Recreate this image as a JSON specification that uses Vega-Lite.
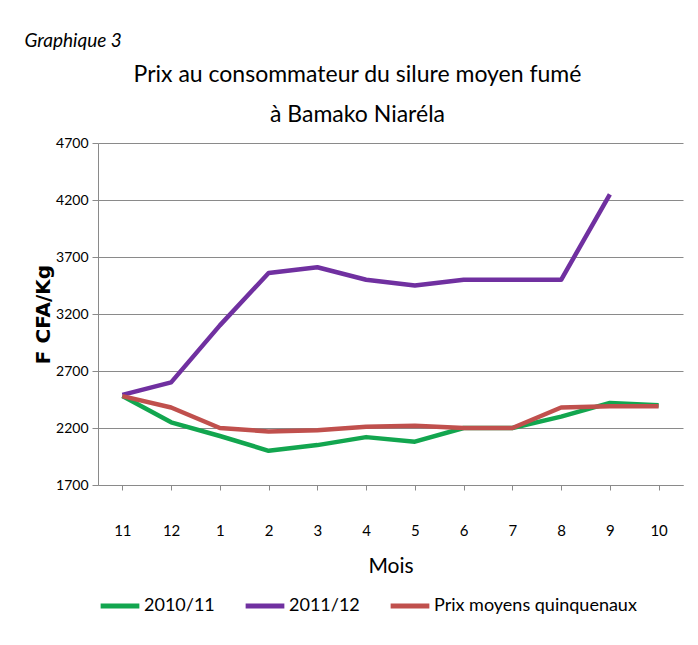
{
  "$schema": "https://vega.github.io/schema/vega-lite/v6.json",
  "background": "white",
  "padding": {"left": 24, "top": 32, "right": 10, "bottom": 10},
  "config": {
    "font": "Lato",
    "view": {"stroke": null},
    "axis": {"labelFont": "Lato", "titleFont": "Lato", "labelColor": "#000", "titleColor": "#000"},
    "legend": {"labelFont": "Lato"},
    "title": {"font": "Lato", "color": "#000"}
  },
  "title": {"text": "Graphique 3", "anchor": "start", "fontStyle": "italic", "fontWeight": "normal", "fontSize": 19, "frame": "bounds", "offset": 13, "dx": -9},
  "vconcat": [
    {
      "width": 585,
      "height": 342,
      "title": {"text": ["Prix au consommateur du silure  moyen fumé", "à Bamako Niaréla"], "fontSize": 23, "fontWeight": "normal", "lineHeight": 40, "anchor": "middle", "dx": -33, "offset": 9},
      "data": {"values": [
        {"mois": "11", "serie": "2010/11", "prix": 2480},
        {"mois": "12", "serie": "2010/11", "prix": 2250},
        {"mois": "1", "serie": "2010/11", "prix": 2130},
        {"mois": "2", "serie": "2010/11", "prix": 2000},
        {"mois": "3", "serie": "2010/11", "prix": 2050},
        {"mois": "4", "serie": "2010/11", "prix": 2120},
        {"mois": "5", "serie": "2010/11", "prix": 2080},
        {"mois": "6", "serie": "2010/11", "prix": 2200},
        {"mois": "7", "serie": "2010/11", "prix": 2200},
        {"mois": "8", "serie": "2010/11", "prix": 2300},
        {"mois": "9", "serie": "2010/11", "prix": 2420},
        {"mois": "10", "serie": "2010/11", "prix": 2400},
        {"mois": "11", "serie": "2011/12", "prix": 2490},
        {"mois": "12", "serie": "2011/12", "prix": 2600},
        {"mois": "1", "serie": "2011/12", "prix": 3100},
        {"mois": "2", "serie": "2011/12", "prix": 3560},
        {"mois": "3", "serie": "2011/12", "prix": 3610},
        {"mois": "4", "serie": "2011/12", "prix": 3500},
        {"mois": "5", "serie": "2011/12", "prix": 3450},
        {"mois": "6", "serie": "2011/12", "prix": 3500},
        {"mois": "7", "serie": "2011/12", "prix": 3500},
        {"mois": "8", "serie": "2011/12", "prix": 3500},
        {"mois": "9", "serie": "2011/12", "prix": 4250},
        {"mois": "11", "serie": "Prix moyens quinquenaux", "prix": 2480},
        {"mois": "12", "serie": "Prix moyens quinquenaux", "prix": 2380},
        {"mois": "1", "serie": "Prix moyens quinquenaux", "prix": 2200},
        {"mois": "2", "serie": "Prix moyens quinquenaux", "prix": 2170},
        {"mois": "3", "serie": "Prix moyens quinquenaux", "prix": 2180},
        {"mois": "4", "serie": "Prix moyens quinquenaux", "prix": 2210},
        {"mois": "5", "serie": "Prix moyens quinquenaux", "prix": 2220},
        {"mois": "6", "serie": "Prix moyens quinquenaux", "prix": 2200},
        {"mois": "7", "serie": "Prix moyens quinquenaux", "prix": 2200},
        {"mois": "8", "serie": "Prix moyens quinquenaux", "prix": 2380},
        {"mois": "9", "serie": "Prix moyens quinquenaux", "prix": 2390},
        {"mois": "10", "serie": "Prix moyens quinquenaux", "prix": 2390}
      ]},
      "mark": {"type": "line", "strokeWidth": 4.5, "strokeJoin": "round"},
      "encoding": {
        "x": {
          "field": "mois", "type": "ordinal",
          "sort": ["11", "12", "1", "2", "3", "4", "5", "6", "7", "8", "9", "10"],
          "scale": {"paddingInner": 0, "paddingOuter": 0},
          "axis": {"title": "Mois", "titleFontSize": 21, "titleFontWeight": "normal", "titlePadding": 17, "labelAngle": 0, "labelFontSize": 15, "labelPadding": 33, "bandPosition": 0, "domainColor": "#8a8a8a", "tickColor": "#8a8a8a", "tickSize": 5, "grid": false}
        },
        "y": {
          "field": "prix", "type": "quantitative",
          "scale": {"domain": [1700, 4700], "nice": false, "zero": false},
          "axis": {"title": "F CFA/Kg", "titleFontSize": 20, "titleFontWeight": "bold", "titleFont": "DejaVu Sans", "titlePadding": 2, "format": "d", "values": [1700, 2200, 2700, 3200, 3700, 4200, 4700], "labelFontSize": 14, "labelPadding": 4, "tickSize": 6, "tickColor": "#8a8a8a", "domainColor": "#8a8a8a", "grid": true, "gridColor": "#8a8a8a", "gridWidth": 1}
        },
        "color": {
          "field": "serie", "type": "nominal",
          "scale": {"domain": ["2010/11", "2011/12", "Prix moyens quinquenaux"], "range": ["#12a64f", "#7030a0", "#c0504d"]},
          "legend": {"title": null, "orient": "bottom", "direction": "horizontal", "symbolType": "stroke", "symbolStrokeWidth": 5, "symbolSize": 1500, "labelFontSize": 18, "labelLimit": 400, "columnPadding": 20, "labelOffset": 2, "offset": 8}
        }
      }
    }
  ]
}
